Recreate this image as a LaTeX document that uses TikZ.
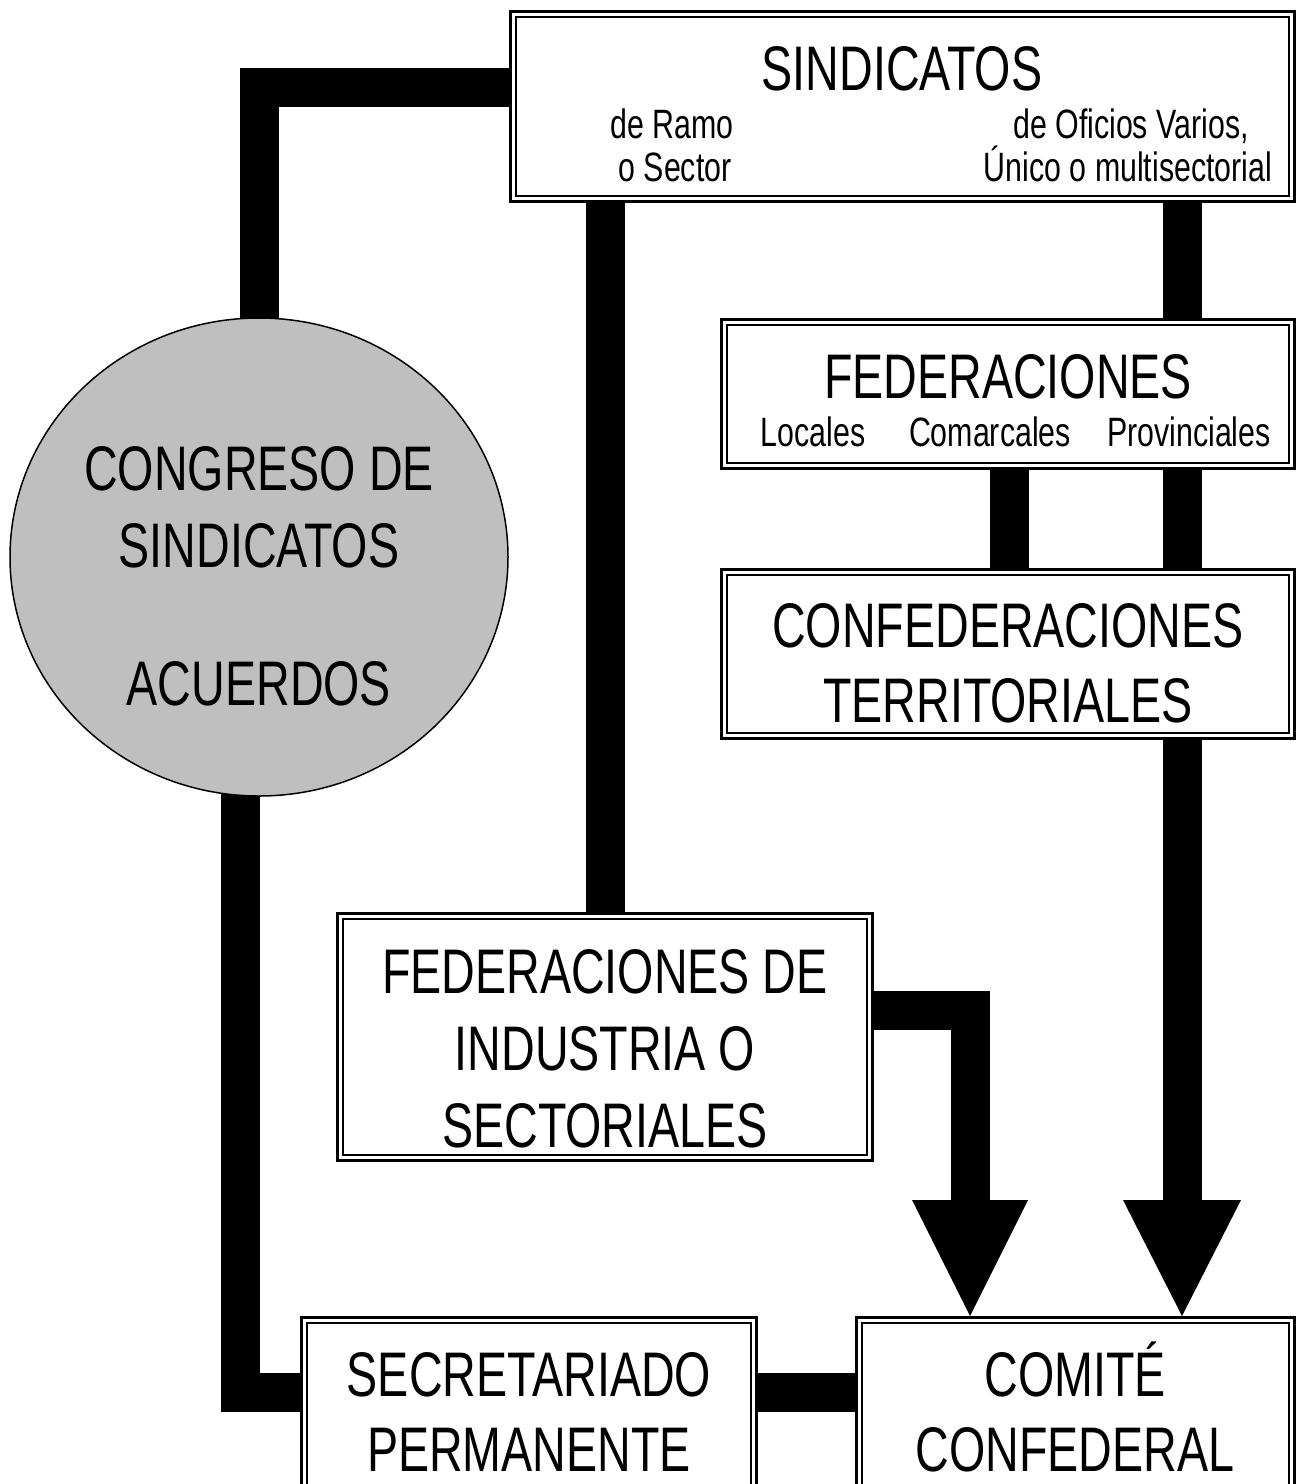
\documentclass[tikz,border=0pt]{standalone}
\usepackage{fontspec}
\setmainfont{Liberation Sans}[FakeStretch=0.74]
\usetikzlibrary{calc,shapes.geometric}
\pgfdeclarelayer{bg}
\pgfsetlayers{bg,main}
\newcommand\BigTxt{\fontsize{63}{70}\selectfont}
\newcommand\SubTxt{\fontsize{41}{46}\selectfont}
\begin{document}
\begin{tikzpicture}[x=1pt,y=-1pt,
  box/.style={draw, line width=3pt, fill=white, inner sep=0pt},
  bar/.style={line width=39pt, line join=miter, line cap=butt},
  big/.style={inner sep=0pt, anchor=base, font=\BigTxt},
  sub/.style={inner sep=0pt, anchor=base, font=\SubTxt}]
\clip (0,0) rectangle (1298,1484);

% boxes
\node[box, minimum width=784pt, minimum height=190pt] (sind) at (902.5,106.5) {};
\node[box, minimum width=573pt, minimum height=149pt] (fed) at (1008,394) {};
\node[box, minimum width=573pt, minimum height=169pt] (conf) at (1008,654) {};
\node[box, minimum width=535pt, minimum height=247pt] (fedind) at (605,1037) {};
\node[box, minimum width=455pt, minimum height=181pt] (sec) at (529,1408) {};
\node[box, minimum width=438pt, minimum height=181pt] (com) at (1075.5,1408) {};
\node[ellipse, draw, line width=1.5pt, fill=black!25, minimum width=498pt, minimum height=478pt, inner sep=0pt] (cong) at (259,557) {};

\foreach \n in {sind,fed,conf,fedind,sec,com}
  \draw[line width=1.5pt] ($(\n.north west)+(7,7)$) rectangle ($(\n.south east)+(-7,-7)$);

% column coordinates
\coordinate (rx) at (1182,0);
\coordinate (mx) at (1009,0);
\coordinate (rbase) at (1182,1200);
\coordinate (lbase) at (970,1200);

% connectors
\begin{pgfonlayer}{bg}
\fill[white] (0,0) rectangle (1298,1484);
\draw[bar] ($(sind.west)+(0,-19)$) -| (cong.center);
\draw[bar] ($(cong.center)+(-19,0)$) |- ($(sec.west)+(0,-16)$);
\draw[bar] ($(sec.east)+(0,-16)$) -- ($(com.west)+(0,-16)$);
\draw[bar] (fedind.north |- sind.south) -- (fedind.north);
\draw[bar] (rx |- sind.south) -- (rx |- fed.north);
\draw[bar] (rx |- fed.south) -- (rx |- conf.north);
\draw[bar] (mx |- fed.south) -- (mx |- conf.north);
\draw[bar] (rx |- conf.south) -- ($(rbase)+(0,1)$);
\draw[bar] ($(fedind.east)+(0,-27)$) -| ($(lbase)+(0,1)$);
\end{pgfonlayer}
\fill ($(rbase)+(-59,0)$) -- ($(rbase)+(59,0)$) -- (rbase |- com.north) -- cycle;
\fill ($(lbase)+(-58,0)$) -- ($(lbase)+(58,0)$) -- (lbase |- com.north) -- cycle;

% texts
\node[big] (t-sind) at (902,90) {SINDICATOS};
\node[sub] (t-ramo) at (672,138) {de Ramo};
\node[sub] (t-sector) at (675,181) {o Sector};
\node[sub] (t-ofi) at (1131,138) {de Oficios Varios,};
\node[sub] (t-unico) at (1128,181) {Único o multisectorial};

\node[big] (t-fed) at (1008,398) {FEDERACIONES};
\node[sub] (t-loc) at (813,446) {Locales};
\node[sub] (t-com) at (990,446) {Comarcales};
\node[sub] (t-prov) at (1189,446) {Provinciales};

\node[big] (t-conf1) at (1008,647) {CONFEDERACIONES};
\node[big] (t-conf2) at (1008,722) {TERRITORIALES};

\node[big] (t-cong1) at (259,490) {CONGRESO DE};
\node[big] (t-cong2) at (259,567) {SINDICATOS};
\node[big] (t-cong3) at (259,705) {ACUERDOS};

\node[big] (t-fi1) at (605,993) {FEDERACIONES DE};
\node[big] (t-fi2) at (605,1070) {INDUSTRIA O};
\node[big] (t-fi3) at (605,1147) {SECTORIALES};

\node[big] (t-sec1) at (529,1396) {SECRETARIADO};
\node[big] (t-sec2) at (529,1471) {PERMANENTE};

\node[big] (t-com1) at (1075,1396) {COMITÉ};
\node[big] (t-com2) at (1075,1471) {CONFEDERAL};
\end{tikzpicture}
\end{document}
